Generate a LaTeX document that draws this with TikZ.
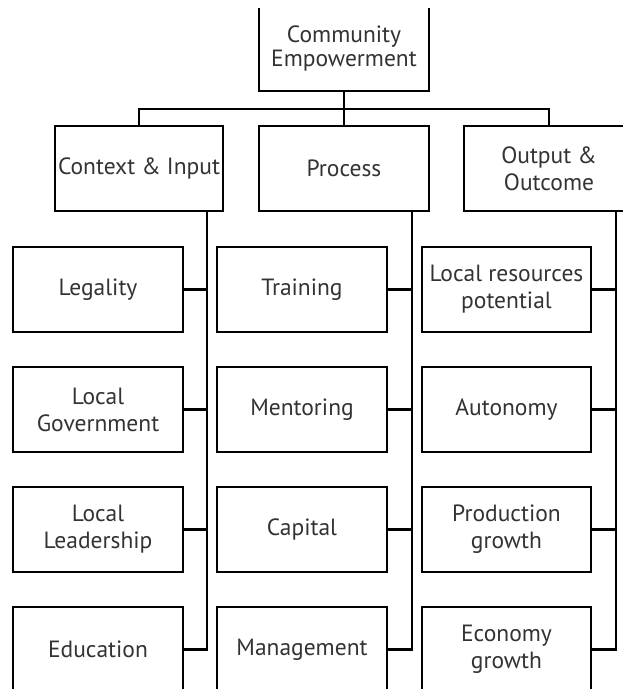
\documentclass[tikz,border=0pt]{standalone}
\usepackage{fontspec}
\setmainfont{PT Sans}
\begin{document}
\begin{tikzpicture}[x=1pt,y=-1pt,
  box/.style={draw=black, line width=1.8pt, fill=white, minimum width=170pt, minimum height=85pt,
    inner sep=0pt, align=center, text=black!80, font=\fontsize{23.5}{27}\selectfont},
  link/.style={draw=black, line width=2.2pt}]
\useasboundingbox (0,0) rectangle (623,689);
\clip (0,8) rectangle (623,689);
% top
\node[box] (top) at (344,48.5) {\raisebox{-4pt}{\shortstack{Community\\[-1pt]Empowerment}}};
% level 2
\node[box, minimum width=168pt] (ctx) at (139,168.5) {Context \& Input};
\node[box] (pro) at (344,168.5) {Process};
\node[box] (out) at (549,168.5) {Output \&\\Outcome};
% level 3 column 1
\node[box] (leg) at (98,289.5) {Legality};
\node[box] (gov) at (98,409.5) {Local\\Government};
\node[box] (lea) at (98,529.5) {Local\\Leadership};
\node[box] (edu) at (98,649.5) {Education};
% column 2
\node[box] (tra) at (302,289.5) {Training};
\node[box] (men) at (302,409.5) {Mentoring};
\node[box] (cap) at (302,529.5) {Capital};
\node[box] (man) at (302,649.5) {Management};
% column 3
\node[box, minimum width=169pt] (loc) at (506.5,289.5) {Local resources\\potential};
\node[box, minimum width=169pt] (aut) at (506.5,409.5) {Autonomy};
\node[box, minimum width=169pt] (prd) at (506.5,529.5) {Production\\growth};
\node[box, minimum width=169pt] (eco) at (506.5,649.5) {Economy\\growth};
% bar
\coordinate (bar) at (0,109);
\draw[link] (top.south) -- (top.south |- bar) -| (ctx.north);
\draw[link] (top.south |- bar) -| (out.north);
\draw[link] (top.south |- bar) -- (pro.north);
% stems
\coordinate (s1) at (207,0);
\coordinate (s2) at (412,0);
\coordinate (s3) at (616,0);
\draw[link] (ctx.south -| s1) |- (edu.east);
\draw[link] (leg.east) -- (leg.east -| s1);
\draw[link] (gov.east) -- (gov.east -| s1);
\draw[link] (lea.east) -- (lea.east -| s1);
\draw[link] (pro.south -| s2) |- (man.east);
\draw[link] (tra.east) -- (tra.east -| s2);
\draw[link] (men.east) -- (men.east -| s2);
\draw[link] (cap.east) -- (cap.east -| s2);
\draw[link] (out.south -| s3) |- (eco.east);
\draw[link] (loc.east) -- (loc.east -| s3);
\draw[link] (aut.east) -- (aut.east -| s3);
\draw[link] (prd.east) -- (prd.east -| s3);
\end{tikzpicture}
\end{document}
